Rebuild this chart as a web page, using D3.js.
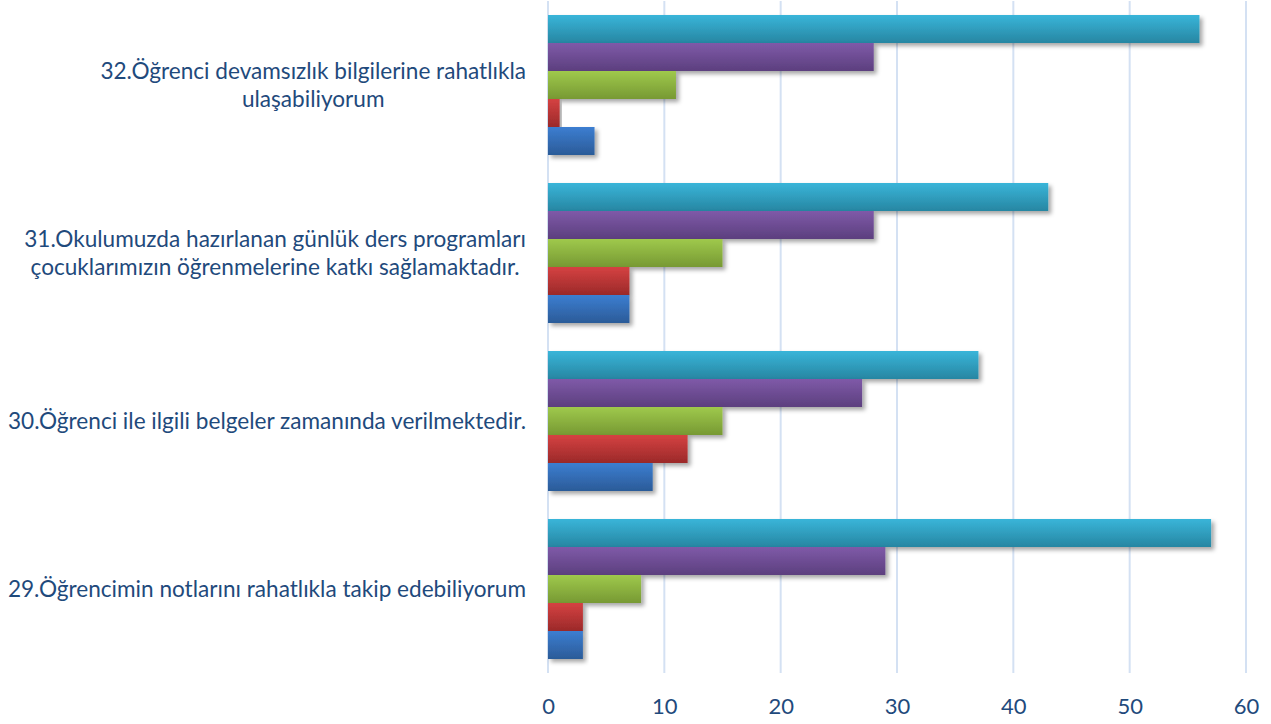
<!DOCTYPE html>
<meta charset="utf-8">
<body style="margin:0;background:#fff">
<style>
  .cat text { font-family: Lato, "Open Sans", sans-serif; font-size: 22.6px; fill: #1f4a7c; }
  .xaxis text { font-family: Lato, "Open Sans", sans-serif; font-size: 22px; fill: #1f4a7c; }
  .grid line { stroke: #d4e1f3; stroke-width: 2px; }
</style>
<svg width="1271" height="724"></svg>
<script src="https://d3js.org/d3.v7.min.js"></script>
<script>

// questions, top to bottom
var questions = ["32", "31", "30", "29"];
var labels = [
  ["32.Öğrenci devamsızlık bilgilerine rahatlıkla", "ulaşabiliyorum"],
  ["31.Okulumuzda hazırlanan günlük ders programları", "çocuklarımızın öğrenmelerine katkı sağlamaktadır."],
  ["30.Öğrenci ile ilgili belgeler zamanında verilmektedir."],
  ["29.Öğrencimin notlarını rahatlıkla takip edebiliyorum"]
];

// series, drawn top to bottom inside each group
var series = ["Kesinlikle katılıyorum", "Katılıyorum", "Kararsızım", "Katılmıyorum", "Kesinlikle katılmıyorum"];
var values = {
  "Kesinlikle katılıyorum":  [56, 43, 37, 57],
  "Katılıyorum":             [28, 28, 27, 29],
  "Kararsızım":              [11, 15, 15, 8],
  "Katılmıyorum":            [1, 7, 12, 3],
  "Kesinlikle katılmıyorum": [4, 7, 9, 3]
};
var colorTop = ["#39b5d9", "#7f5aa8", "#9fc94c", "#d54242", "#3c7ed1"];
var colorBot = ["#2786a2", "#5c3f7e", "#779933", "#9b2929", "#2b5b98"];
var xTicks = [0, 10, 20, 30, 40, 50, 60];

var svg = d3.select("svg");

var x = d3.scaleLinear().domain([0, 60]).range([548, 1246]);
var y = d3.scaleBand().domain(questions).range([1, 673])
    .paddingInner(1 / 6).paddingOuter(1 / 12);
var ySub = d3.scaleBand().domain(series).range([0, y.bandwidth()]);

var defs = svg.append("defs");
series.forEach(function(s, i) {
  var grad = defs.append("linearGradient")
      .attr("id", "g" + i)
      .attr("x1", 0).attr("y1", 0).attr("x2", 0).attr("y2", 1);
  grad.append("stop").attr("offset", "0%").attr("stop-color", colorTop[i]);
  grad.append("stop").attr("offset", "100%").attr("stop-color", colorBot[i]);
});
var shadow = defs.append("filter").attr("id", "shadow")
    .attr("x", "-5%").attr("y", "-20%").attr("width", "120%").attr("height", "160%");
shadow.append("feDropShadow")
    .attr("dx", 3).attr("dy", 3).attr("stdDeviation", 2)
    .attr("flood-color", "#000").attr("flood-opacity", 0.35);

// grid
svg.append("g").attr("class", "grid")
  .selectAll("line")
  .data(xTicks)
  .enter().append("line")
    .attr("x1", function(d) { return x(d); })
    .attr("x2", function(d) { return x(d); })
    .attr("y1", 1).attr("y2", 673);

// x axis labels
var xAxis = svg.append("g").attr("class", "xaxis")
    .attr("transform", "translate(0,673)")
    .call(d3.axisBottom(x).tickValues(xTicks).tickSize(0).tickPadding(25));
xAxis.select(".domain").remove();
xAxis.selectAll("text").attr("font-family", null).attr("font-size", null).attr("fill", null);

// bars
var group = svg.append("g")
  .selectAll("g")
  .data(questions)
  .enter().append("g")
    .attr("transform", function(q) { return "translate(0," + y(q) + ")"; });

group.selectAll("rect")
  .data(function(q, qi) {
    return series.map(function(s, si) { return { s: s, si: si, v: values[s][qi] }; });
  })
  .enter().append("rect")
    .attr("x", x(0))
    .attr("y", function(d) { return ySub(d.s); })
    .attr("width", function(d) { return x(d.v) - x(0); })
    .attr("height", ySub.bandwidth())
    .attr("fill", function(d) { return "url(#g" + d.si + ")"; })
    .attr("filter", "url(#shadow)");

// category labels: first line right-aligned, the rest centred under it
var lineH = 28;
var cat = svg.append("g").attr("class", "cat");
questions.forEach(function(q, qi) {
  var lines = labels[qi];
  var cy = y(q) + y.bandwidth() / 2;
  var first = cat.append("text")
      .attr("text-anchor", "end")
      .attr("x", 526)
      .attr("y", cy - (lines.length - 1) * lineH / 2)
      .attr("dy", "0.35em")
      .text(lines[0]);
  var mid = 526 - first.node().getComputedTextLength() / 2;
  for (var i = 1; i < lines.length; i++) {
    cat.append("text")
      .attr("text-anchor", "middle")
      .attr("x", mid)
      .attr("y", cy - (lines.length - 1) * lineH / 2 + i * lineH)
      .attr("dy", "0.35em")
      .text(lines[i]);
  }
});

</script>
</body>
